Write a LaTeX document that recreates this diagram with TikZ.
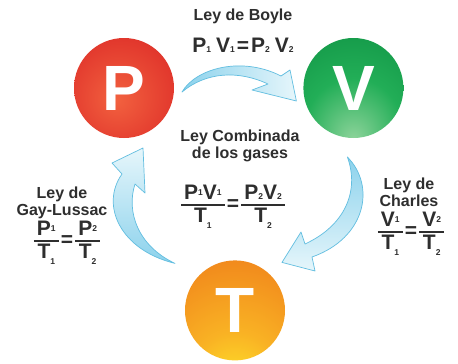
\documentclass[tikz,border=0pt]{standalone}
\usepackage{amsmath}
\usepackage{fontspec}
\setmainfont{Liberation Sans}
\usepackage{tikz}
\usetikzlibrary{positioning, calc}
\definecolor{cInk}{HTML}{2E2E2E}
\definecolor{cRedL}{HTML}{F2613F}
\definecolor{cRedM}{HTML}{E2382D}
\definecolor{cRedD}{HTML}{BC181C}
\definecolor{cGrnL}{HTML}{8ED49B}
\definecolor{cGrnM}{HTML}{22AE57}
\definecolor{cGrnD}{HTML}{08873C}
\definecolor{cOrgL}{HTML}{FFEC2A}
\definecolor{cOrgM}{HTML}{F9B224}
\definecolor{cOrgD}{HTML}{EF7E1A}
\definecolor{cSky}{HTML}{8CD2EC}
\definecolor{cSkyL}{HTML}{E6F6FB}
\definecolor{cSkyD}{HTML}{62BEE0}
\pgfdeclareradialshading{ballP}{\pgfpoint{-4bp}{-6bp}}{color(0bp)=(cRedL); color(28bp)=(cRedM); color(48bp)=(cRedD); color(70bp)=(cRedD)}
\pgfdeclareradialshading{ballV}{\pgfpoint{0bp}{-26bp}}{color(0bp)=(cGrnL); color(24bp)=(cGrnM); color(60bp)=(cGrnD); color(90bp)=(cGrnD)}
\pgfdeclareradialshading{ballT}{\pgfpoint{0bp}{-42bp}}{color(0bp)=(cOrgL); color(22bp)=(cOrgM); color(55bp)=(cOrgD); color(100bp)=(cOrgD)}
\newcommand\sbx[2][0pt]{\raisebox{#1}{\fontsize{8.5}{8.5}\selectfont #2}}
\newcommand\frc[2]{$\genfrac{}{}{1.8pt}{1}%
  {\mbox{\hspace{3pt}\raisebox{2.5pt}{#1}\hspace{3pt}}}{\mbox{\raisebox{-2pt}{#2}}}$}
\newcommand\eqs{\hspace{1pt}=\hspace{1pt}}
\tikzset{
  ball/.style={
    circle, shading=#1, minimum size=100pt, inner sep=0pt,
    text=white, font=\bfseries\fontsize{64}{64}\selectfont
  },
  lbl/.style={font=\bfseries\fontsize{16}{17}\selectfont, text=cInk,
    align=center, inner sep=0pt},
  eqn/.style={font=\bfseries\fontsize{21}{21}\selectfont, text=cInk,
    inner sep=0pt},
  flow/.style={draw=cSkyD, line width=0.7pt, line join=round},
}

\begin{document}
\begin{tikzpicture}[x=1pt, y=-1pt]

  \fill[white] (0,0) rectangle (458,364);
  \useasboundingbox (0,0) rectangle (458,364);

  \node[ball=ballP] (P) at (124,88) {P};
  \node[ball=ballV, right=129pt of P] (V) {V};
  \node[ball=ballT, below=122pt of P, xshift=111pt] (T) {T};

  % curved arrows P -> V -> T -> P
  \path[flow, left color=cSky, right color=cSkyL]
    ($(P)+(58,4)$) .. controls (196,68) and (242,56) .. (281,76)
    -- (290,70) -- ($(V)+(-57,13)$) -- (252,90) -- (268,84)
    .. controls (238,70) and (206,72) .. ($(P)+(58,4)$) -- cycle;
  \path[flow, top color=cSky, bottom color=cSkyL]
    ($(V)+(-6,69)$) .. controls (376,186) and (366,238) .. (312,257)
    -- (315,271) -- ($(T)+(47,-48)$) -- (301,232) -- (305,244)
    .. controls (344,226) and (360,192) .. ($(V)+(-6,69)$) -- cycle;
  \path[flow, bottom color=cSky, top color=cSkyL]
    ($(T)+(-60,-47)$) .. controls (120,250) and (100,205) .. (122,174)
    -- (112,163) -- ($(P)+(19,60)$) -- (145,193) -- (135,184)
    .. controls (126,212) and (138,246) .. ($(T)+(-60,-47)$) -- cycle;

  \node[lbl] (boyle) at (243,16) {Ley de Boyle};
  \node[eqn] (boyleq) at (243,45)
    {P\sbx{1}\hspace{5pt}V\sbx{1}\hspace{2pt}=\hspace{2pt}P\sbx{2}\hspace{5pt}V\sbx{2}};

  \node[lbl] (comb) at (240,146) {Ley Combinada\\de los gases};
  \node[eqn] (combeq) at (233,207)
    {\frc{P\sbx[0.2em]{1}V\sbx[0.2em]{1}}{T\sbx[-0.3em]{1}}\eqs\frc{P\sbx{2}V\sbx{2}}{T\sbx[-0.3em]{2}}};

  \node[lbl] (gl) at (62,203) {Ley de\\Gay-Lussac};
  \node[eqn] (gleq) at (67,243)
    {\frc{P\sbx[0.2em]{1}}{T\sbx[-0.3em]{1}}\eqs\frc{P\sbx[0.2em]{2}}{T\sbx[-0.3em]{2}}};

  \node[lbl] (ch) at (409,192) {Ley de\\Charles};
  \node[eqn] (cheq) at (411,234)
    {\frc{V\sbx[0.2em]{1}}{T\sbx[-0.3em]{1}}\eqs\frc{V\sbx[0.2em]{2}}{T\sbx[-0.3em]{2}}};

\end{tikzpicture}
\end{document}
